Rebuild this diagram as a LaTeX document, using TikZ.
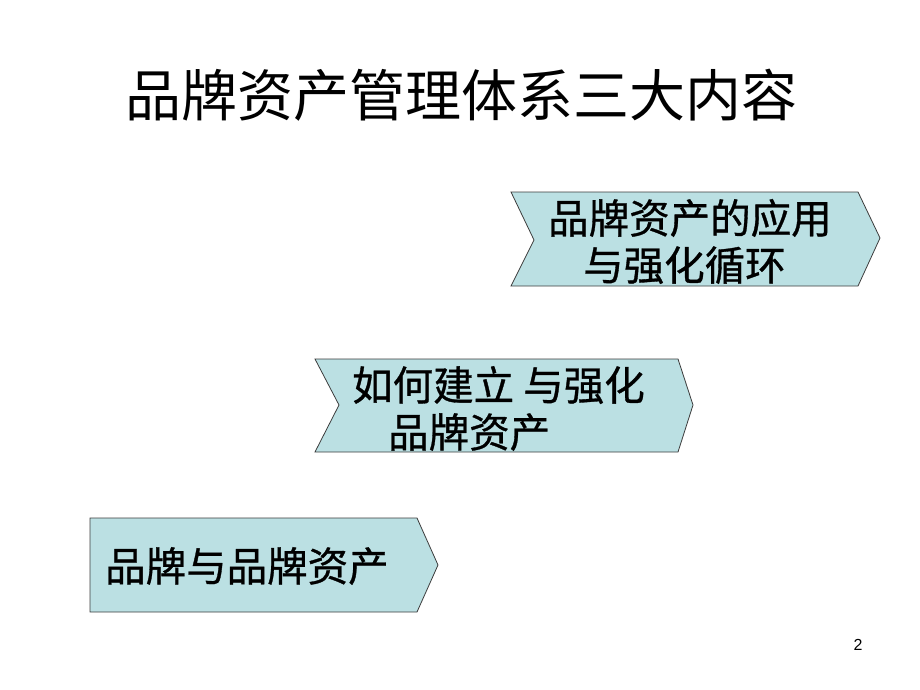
\documentclass[tikz,border=0pt]{standalone}
\usepackage{fontspec}
\setmainfont{Liberation Sans}
\newfontfamily\cjk{Noto Sans CJK SC}
\newfontfamily\cjkheavy[FakeBold=0.8]{Noto Sans CJK SC}
\definecolor{boxfill}{RGB}{187,224,227}
\definecolor{boxline}{RGB}{60,60,60}
\begin{document}
\begin{tikzpicture}[x=1pt,y=-1pt,
  arrowbox/.style={draw=boxline,fill=boxfill,line width=0.8pt,line join=miter},
  boxtext/.style={anchor=west,inner sep=0pt,align=left,font=\cjkheavy\fontsize{40.5}{47}\selectfont}]
\useasboundingbox (0,0) rectangle (920,690);

% --- Titolo ---
\node[inner sep=0pt,font=\cjk\fontsize{56}{60}\selectfont] (titolo) at (461,95) {品牌资产管理体系三大内容};

% --- Freccia in alto: applicazione ---
\draw[arrowbox] (511,192) -- (858,192) -- (880,238) -- (858,286) -- (511,286) -- (534,240) -- cycle;
\node[boxtext] (uso) at (548,241.5) {品牌资产的应用\\\hspace*{35pt}与强化循环};

% --- Freccia centrale: costruzione ---
\draw[arrowbox] (315,359) -- (678,359) -- (693,405) -- (678,452) -- (315,452) -- (339,405) -- cycle;
\node[boxtext] (costruzione) at (352,408.5) {如何建立 与强化\\\hspace*{36pt}品牌资产};

% --- Freccia in basso: base ---
\draw[arrowbox] (90,518) -- (417,518) -- (438,565) -- (417,612) -- (90,612) -- cycle;
\node[boxtext] (base) at (105,566) {品牌与品牌资产};

% numero di pagina
\node[inner sep=0pt,font=\fontsize{16}{18}\selectfont] (pagina) at (858,645) {2};

\end{tikzpicture}
\end{document}
